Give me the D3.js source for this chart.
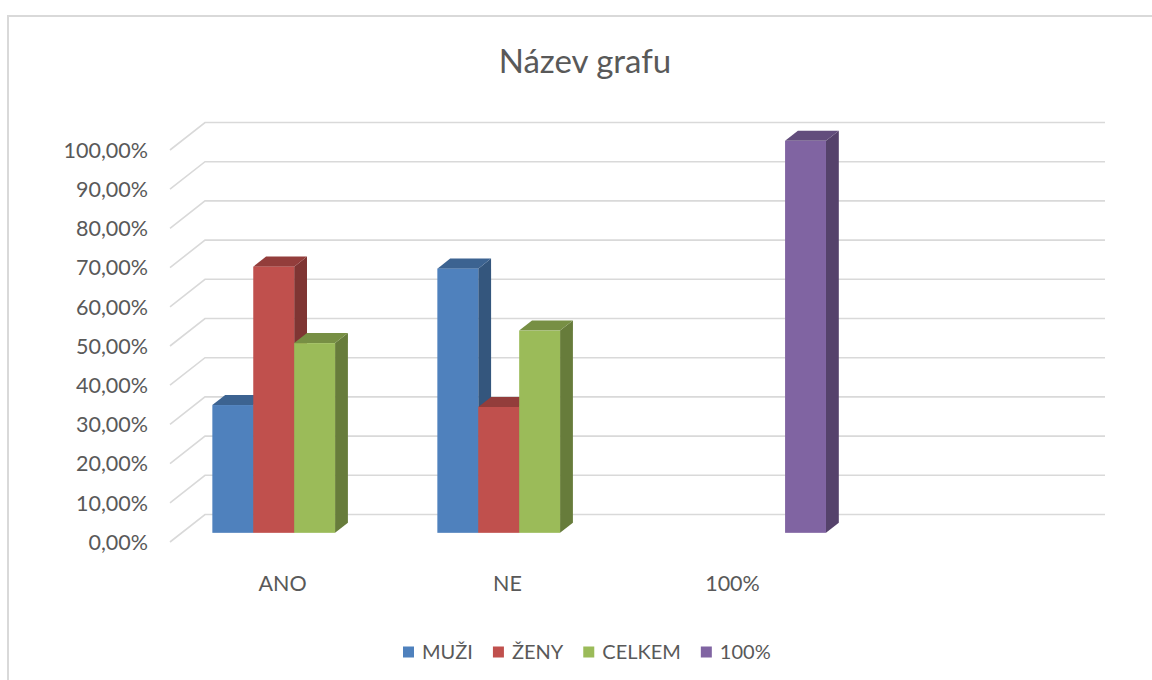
<!DOCTYPE html>
<html>
<head>
<meta charset="utf-8">
<script src="https://cdn.jsdelivr.net/npm/d3@7"></script>
<style>
  body { margin: 0; background: #fff; }
  text { font-family: Lato, "Open Sans", sans-serif; fill: #595959; }
</style>
</head>
<body>
<div id="chart"></div>
<script>
// Chart data
const categories = ['ANO', 'NE', '100%', ''];
const seriesNames = ['MUŽI', 'ŽENY', 'CELKEM', '100%'];
const muzi = [0.326, 0.674, null, null];
const zeny = [0.679, 0.321, null, null];
const celkem = [0.484, 0.516, null, null];
const sto = [null, null, 1.0, null];
const yTicks = [0, 0.1, 0.2, 0.3, 0.4, 0.5, 0.6, 0.7, 0.8, 0.9, 1.0];
const colors = ['#4F81BD', '#C0504D', '#9BBB59', '#8064A2'];

const seriesValues = [muzi, zeny, celkem, sto];

// Chart dimensions
const WIDTH = 1152;
const HEIGHT = 680;
const FRONT_LEFT = 170;
const PLOT_W = 900;
const FRONT_BASE = 542;
const PLOT_H = 392;
const DEPTH_X = 35;
const DEPTH_Y = -27.5;
const BAR_FRONT = 1 / 3;
const BAR_BACK = 0.7;

const csLocale = d3.formatLocale({ decimal: ',', thousands: ' ', grouping: [3], currency: ['', ' Kč'] });
const fmt = csLocale.format('.2%');

const svg = d3.select('#chart')
  .append('svg')
  .attr('width', WIDTH)
  .attr('height', HEIGHT);

// chart area border (runs off the right and bottom of the picture)
svg.append('rect')
  .attr('x', 8)
  .attr('y', 16)
  .attr('width', 1200)
  .attr('height', 720)
  .attr('fill', '#fff')
  .attr('stroke', '#D9D9D9')
  .attr('stroke-width', 2);

// scales, depth f moves a point from the front (0) to the back wall (1)
const x0 = d3.scaleBand().domain(categories).range([0, PLOT_W]);
const x1 = d3.scaleBand().domain(seriesNames).range([0, x0.bandwidth()]).paddingOuter(0.75);
const y = d3.scaleLinear().domain([0, 1]).range([0, PLOT_H]);

const px = (x, f) => FRONT_LEFT + x + DEPTH_X * f;
const py = (v, f) => FRONT_BASE - y(v) + DEPTH_Y * f;

// gridlines: left wall diagonal + back wall line
svg.append('g')
  .selectAll('path')
  .data(yTicks)
  .enter()
  .append('path')
  .attr('d', (d) => `M${px(0, 0)},${py(d, 0)} L${px(0, 1)},${py(d, 1)} L${px(PLOT_W, 1)},${py(d, 1)}`)
  .attr('fill', 'none')
  .attr('stroke', '#D9D9D9')
  .attr('stroke-width', 1.6);

// y tick labels
svg.append('g')
  .selectAll('text')
  .data(yTicks)
  .enter()
  .append('text')
  .attr('x', 148)
  .attr('y', (d) => py(d, 0))
  .attr('dy', '0.36em')
  .attr('text-anchor', 'end')
  .style('font-size', '21.5px')
  .text((d) => fmt(d));

// 3D bars, drawn left to right so each front covers the previous side
const bars = [];
categories.forEach((c, ci) => {
  seriesNames.forEach((s, si) => {
    const v = seriesValues[si][ci];
    if (v != null) bars.push({ c, s, si, v });
  });
});

const barGroups = svg.append('g')
  .selectAll('.bar')
  .data(bars)
  .enter()
  .append('g')
  .attr('class', 'bar');

const xl = (d) => x0(d.c) + x1(d.s);
const xr = (d) => x0(d.c) + x1(d.s) + x1.bandwidth();

// side face
barGroups.append('path')
  .attr('d', (d) => `M${px(xr(d), BAR_FRONT)},${py(0, BAR_FRONT)}
    L${px(xr(d), BAR_BACK)},${py(0, BAR_BACK)}
    L${px(xr(d), BAR_BACK)},${py(d.v, BAR_BACK)}
    L${px(xr(d), BAR_FRONT)},${py(d.v, BAR_FRONT)}Z`)
  .attr('fill', (d) => d3.color(colors[d.si]).darker(1.15));

// top face
barGroups.append('path')
  .attr('d', (d) => `M${px(xl(d), BAR_FRONT)},${py(d.v, BAR_FRONT)}
    L${px(xl(d), BAR_BACK)},${py(d.v, BAR_BACK)}
    L${px(xr(d), BAR_BACK)},${py(d.v, BAR_BACK)}
    L${px(xr(d), BAR_FRONT)},${py(d.v, BAR_FRONT)}Z`)
  .attr('fill', (d) => d3.color(colors[d.si]).darker(0.75));

// front face
barGroups.append('rect')
  .attr('x', (d) => px(xl(d), BAR_FRONT))
  .attr('y', (d) => py(d.v, BAR_FRONT))
  .attr('width', x1.bandwidth())
  .attr('height', (d) => y(d.v))
  .attr('fill', (d) => colors[d.si]);

// category labels
svg.append('g')
  .selectAll('text')
  .data(categories)
  .enter()
  .append('text')
  .attr('x', (d) => FRONT_LEFT + x0(d) + x0.bandwidth() / 2)
  .attr('y', 591)
  .attr('text-anchor', 'middle')
  .style('font-size', '21.5px')
  .text((d) => d);

// title
svg.append('text')
  .attr('x', 585)
  .attr('y', 73)
  .attr('text-anchor', 'middle')
  .style('font-size', '33px')
  .text('Název grafu');

// legend
const legend = svg.append('g');
let lx = 403;
seriesNames.forEach((s, i) => {
  legend.append('rect')
    .attr('x', lx)
    .attr('y', 646.5)
    .attr('width', 11)
    .attr('height', 11)
    .attr('fill', colors[i]);
  const t = legend.append('text')
    .attr('x', lx + 19)
    .attr('y', 659)
    .style('font-size', '20px')
    .text(s);
  lx += 19 + t.node().getComputedTextLength() + 20;
});
</script>
</body>
</html>
